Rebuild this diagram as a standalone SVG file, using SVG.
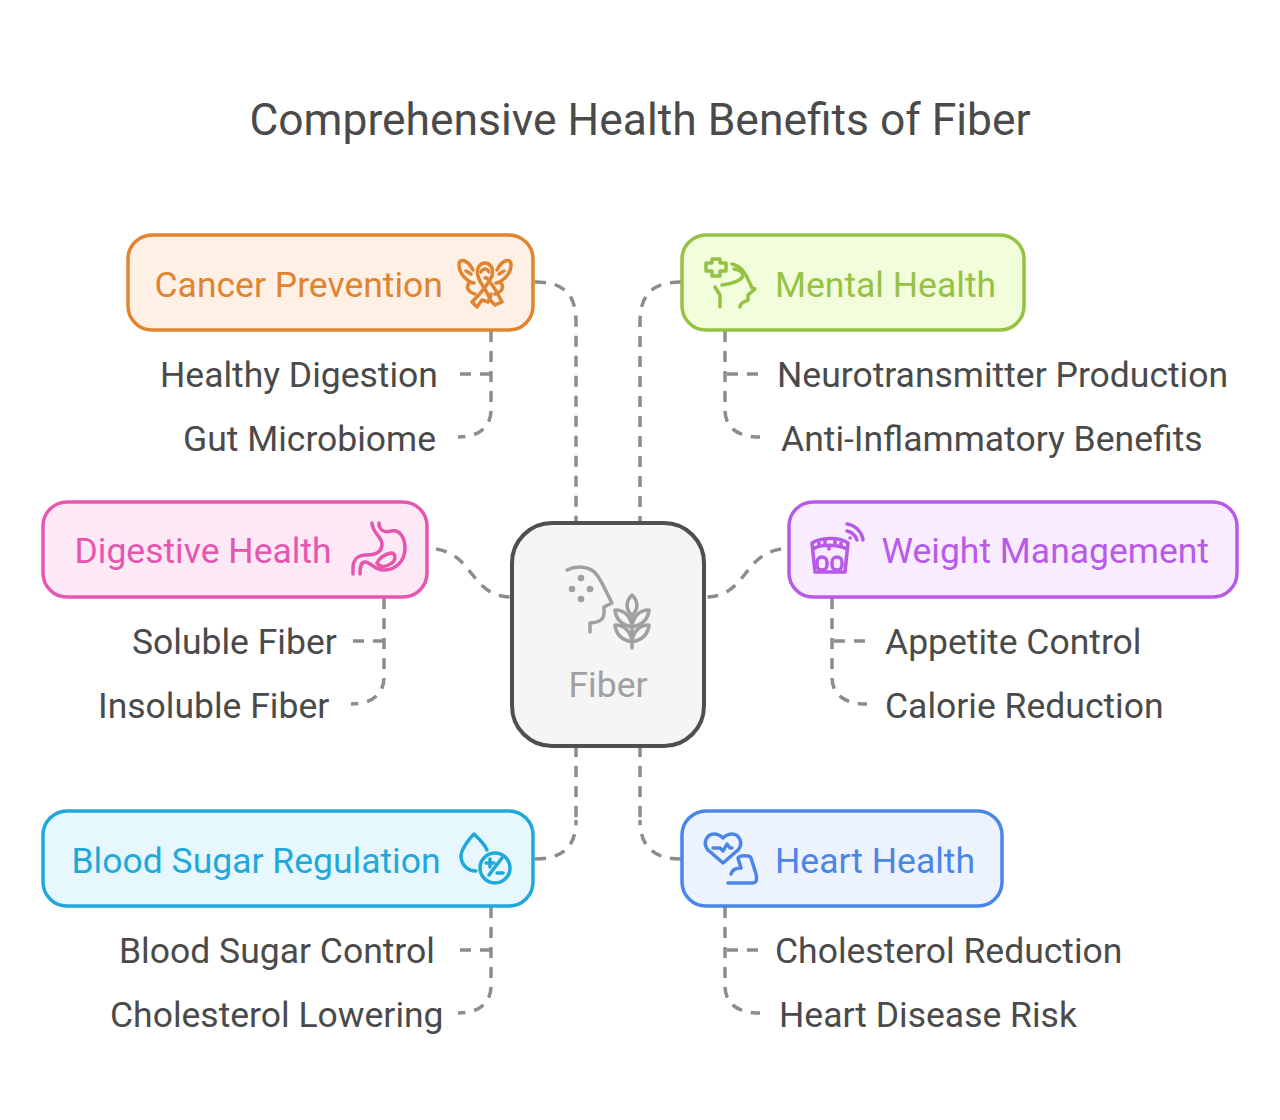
<svg xmlns="http://www.w3.org/2000/svg" width="1280" height="1120" viewBox="0 0 1280 1120">
<style>
text{font-family:Roboto,"Liberation Sans",sans-serif;font-size:35.500px;fill:#4a4a4a}
.title{font-size:44.400px}
.box{stroke-width:3.500}
.ic{fill:none;stroke-width:3.500;stroke-linecap:round;stroke-linejoin:round}
.c{fill:none;stroke:#8c8c8c;stroke-width:3.500;stroke-dasharray:11 9}
.or{stroke:#e0842f}.gr{stroke:#96c244}.pk{stroke:#e557ae}.pu{stroke:#b85ae8}.bl{stroke:#1fa8dc}.hb{stroke:#4a86e8}
</style>
<rect width="1280" height="1120" fill="#fff"/>
<text class="title" x="640" y="135" text-anchor="middle">Comprehensive Health Benefits of Fiber</text>
<g id="connectors">
<path class="c" d="M535,282C565,282 576,295 576,322V522"/>
<path class="c" d="M681,282C652,282 640,295 640,322V522"/>
<path class="c" d="M436,549C475,555 470,597 512,597"/>
<path class="c" d="M781,549C742,555 747,597 705,597"/>
<path class="c" d="M576,746V820M535,859C565,859 576,845 576,820"/>
<path class="c" d="M640,746V820M681,859C652,859 640,845 640,820"/>
<path class="c" d="M491,331V410C491,428 478,437 458,437"/>
<path class="c" d="M460,374H491"/>
<path class="c" d="M725,331V410C725,428 738,437 760,437"/>
<path class="c" d="M758,374H725"/>
<path class="c" d="M384,598V677C384,695 371,704 351,704"/>
<path class="c" d="M353,641H384"/>
<path class="c" d="M832,598V677C832,695 845,704 867,704"/>
<path class="c" d="M865,641H832"/>
<path class="c" d="M491,907V986C491,1004 478,1013 458,1013"/>
<path class="c" d="M460,950H491"/>
<path class="c" d="M725,907V986C725,1004 738,1013 760,1013"/>
<path class="c" d="M758,950H725"/>
</g>
<g id="fiber">
<rect x="512" y="523" width="192" height="223" rx="40" fill="#f5f5f5" stroke="#4f4f4f" stroke-width="4"/>
<g class="ic" stroke="#a0a0a0">
<path d="M567,570C575,566 590,565 597,575C604,585 608,596 612,603L604,607L604,614C603,620 600,622 590,623V632"/>
<path d="M632,595C626,601 625,608 632,616C639,608 638,601 632,595Z"/>
<path d="M615,610C616,620 622,625 632,627C631,617 625,610 615,610Z"/>
<path d="M649,610C648,620 642,625 632,627C633,617 639,610 649,610Z"/>
<path d="M615,625C616,635 622,640 632,642C631,632 625,625 615,625Z"/>
<path d="M649,625C648,635 642,640 632,642C633,632 639,625 649,625Z"/>
<path d="M632,616V648"/>
</g>
<g fill="#a0a0a0"><circle cx="581" cy="578" r="3.300"/><circle cx="572" cy="589" r="3.300"/><circle cx="590" cy="589" r="3.300"/><circle cx="581" cy="599" r="3.300"/></g>
<text x="608" y="697" text-anchor="middle" style="fill:#a0a0a0">Fiber</text>
</g>
<g id="cancer">
<rect class="box or" x="128" y="235" width="405" height="95" rx="24" fill="#fff0e5"/>
<text x="154.500" y="297" style="fill:#e0842f">Cancer Prevention</text>
<g class="ic or">
<path d="M492,276C494,268 490,263 485,263C480,263 476,268 478,276C480,284 487,290 491,301L495,305L502,302L495,289C490,282 486,276 485,278"/>
<path d="M492,276C488,285 480,294 472,302L477,307L482,300L488,302C490,298 491,296 491,294"/>
<path d="M481,272C483,268 487,268 489,272"/>
<path d="M473,270C468,260 459,257 459,265C459,272 464,278 470,282C465,287 468,292 475,294"/>
<path d="M497,270C502,260 511,257 511,265C511,272 506,278 500,282C505,287 502,292 495,294"/>
<path d="M466,271L471,274M499,274L504,271M470,282L474,283M496,283L500,282"/>
</g>
</g>
<g id="mental">
<rect class="box gr" x="682" y="235" width="342" height="95" rx="24" fill="#f2fedb"/>
<text x="775" y="297" style="fill:#96c244">Mental Health</text>
<g class="ic gr">
<path d="M712,259H720V263H726V271H720V276H712V271H706V263H712Z"/>
<path d="M732,264C745,267 748,280 752,288L755,289L748,295V300C745,302 740,302 740,307"/>
<path d="M734,269C740,270 743,273 743,276C740,282 730,284 722,285"/>
<path d="M715,287L720,295V307"/>
</g>
</g>
<g id="digestive">
<rect class="box pk" x="43" y="502" width="384" height="95" rx="24" fill="#fde8f6"/>
<text x="74.500" y="563" style="fill:#e557ae">Digestive Health</text>
<g class="ic pk">
<path d="M372,523C372,532 382,537 382,544C382,552 375,555 366,555C358,555 353,560 353,568V574"/>
<path d="M379,523C379,530 384,533 391,531C400,529 405,538 405,548C405,562 395,570 384,570C374,570 371,562 365,562C361,562 360,566 360,574"/>
<path d="M377,563C379,558 385,554 391,553C396,553 396,560 392,563C387,567 380,568 377,563Z"/>
</g>
</g>
<g id="weight">
<rect class="box pu" x="789" y="502" width="448" height="95" rx="24" fill="#f9ecfe"/>
<text x="881.500" y="563" style="fill:#b85ae8">Weight Management</text>
<g class="ic pu">
<path d="M812,543C820,538 838,536 848,543L845,572H815Z"/>
<rect x="817" y="557" width="10" height="13" rx="5"/>
<rect x="832" y="557" width="10" height="13" rx="5"/>
<path d="M813,549C820,544 838,544 847,549M819,543V546M825,541V544M835,541V544M841,543V546M829,545V549"/>
<path d="M847,524C855,525 862,532 863,540"/>
<path d="M847,531C852,532 856,536 857,540"/>
<path d="M850,538H850.100"/>
</g>
</g>
<g id="blood">
<rect class="box bl" x="43" y="811" width="490" height="95" rx="24" fill="#e6f8fe"/>
<text x="71.500" y="873" style="fill:#1fa8dc">Blood Sugar Regulation</text>
<g class="ic bl">
<path d="M476,871C467,871 461,864 461,856C461,849 470,838 474,834C478,838 484,843 487,850"/>
<circle cx="495" cy="868" r="15"/>
<path d="M489,875L502,858M486,863H494M490,859V867M497,873H503"/>
</g>
</g>
<g id="heart">
<rect class="box hb" x="682" y="811" width="320" height="95" rx="24" fill="#edf3fe"/>
<text x="775" y="873" style="fill:#4a86e8">Heart Health</text>
<g class="ic hb">
<path d="M723,863L708,850C702,843 707,834 714,834C718,834 721,836 723,838C725,836 728,834 732,834C739,834 744,843 738,850Z"/>
<path d="M713,848H720L723,851L727,844L730,848H732"/>
<path d="M728,883H753C757,883 757,878 756,874L751,858C750,855 740,855 738,858L741,868C735,868 732,870 731,874"/>
</g>
</g>
<g id="labels">
<text x="160" y="387">Healthy Digestion</text>
<text x="183" y="451">Gut Microbiome</text>
<text x="777" y="387">Neurotransmitter Production</text>
<text x="781" y="451">Anti-Inflammatory Benefits</text>
<text x="132" y="654">Soluble Fiber</text>
<text x="98" y="718">Insoluble Fiber</text>
<text x="885" y="654">Appetite Control</text>
<text x="885" y="718">Calorie Reduction</text>
<text x="119" y="963">Blood Sugar Control</text>
<text x="110" y="1027">Cholesterol Lowering</text>
<text x="775" y="963">Cholesterol Reduction</text>
<text x="779" y="1027">Heart Disease Risk</text>
</g>
</svg>
